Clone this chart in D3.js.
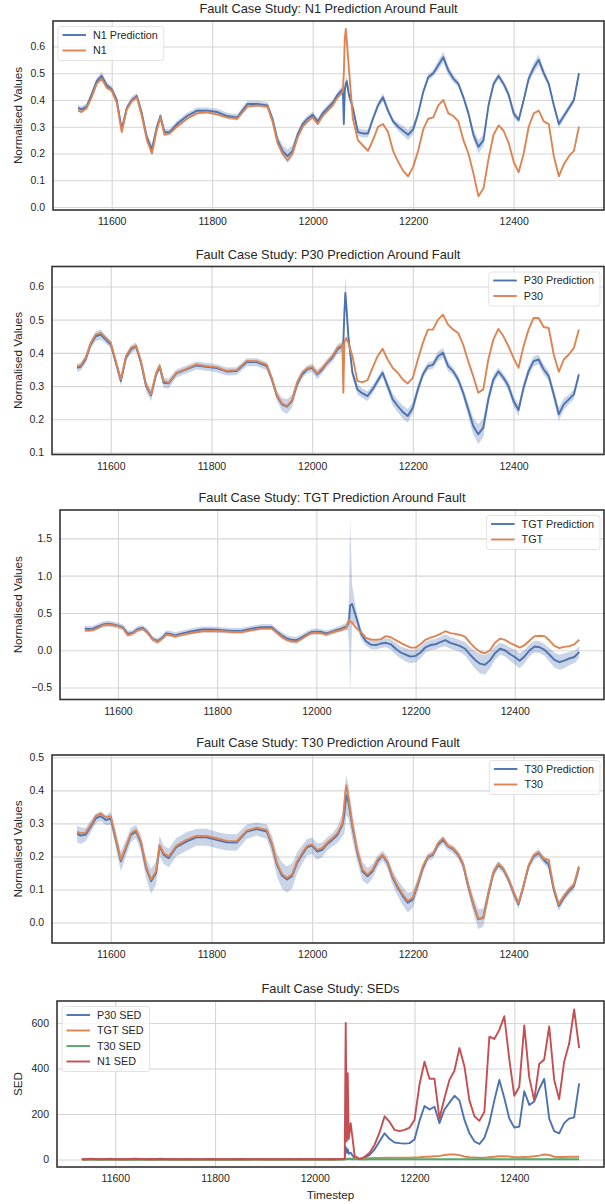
<!DOCTYPE html>
<html>
<head>
<meta charset="utf-8">
<script src="https://cdn.jsdelivr.net/npm/d3@7"></script>
<style>
  body { margin: 0; background: #fff; }
  svg { display: block; font-family: "Liberation Sans", Arial, sans-serif; }
  .grid line { stroke: #d6d6d6; stroke-width: 1.1; }
  .grid .domain { display: none; }
  .grid text { fill: #262626; font-size: 10.5px; }
  .title { font-size: 12.8px; fill: #262626; }
  .label { font-size: 11.7px; fill: #262626; }
  .legend text { font-size: 10.8px; fill: #262626; }
</style>
</head>
<body>
<svg width="605" height="1204"></svg>
<script>
// timesteps shared by every panel (denser around the fault at ~12062)
const steps = [
  11533, 11540, 11550, 11560, 11570, 11580, 11590, 11600, 11610, 11620,
  11630, 11640, 11650, 11660, 11670, 11680, 11690, 11697, 11705, 11715,
  11730, 11750, 11770, 11790, 11810, 11830, 11850, 11870, 11890, 11910,
  11920, 11930, 11940, 11950, 11960, 11970, 11980, 11990, 12000, 12010,
  12020, 12030, 12040, 12050, 12060, 12062, 12064, 12066, 12068, 12072,
  12080, 12090, 12100, 12110, 12120, 12130, 12140, 12150, 12160, 12170,
  12180, 12190, 12200, 12210, 12220, 12230, 12240, 12250, 12260, 12270,
  12280, 12290, 12300, 12310, 12320, 12330, 12340, 12350, 12360, 12370,
  12380, 12390, 12400, 12410, 12420, 12430, 12440, 12450, 12460, 12470,
  12480, 12490, 12500, 12510, 12520, 12530
];

// N1
const n1Pred = [
  0.37, 0.365, 0.375, 0.42, 0.47, 0.49, 0.455, 0.44, 0.40, 0.29,
  0.37, 0.40, 0.415, 0.35, 0.26, 0.215, 0.30, 0.34, 0.28, 0.28,
  0.31, 0.34, 0.36, 0.36, 0.355, 0.34, 0.335, 0.385, 0.385, 0.38,
  0.33, 0.25, 0.21, 0.19, 0.21, 0.27, 0.31, 0.33, 0.345, 0.32,
  0.35, 0.37, 0.39, 0.42, 0.44, 0.31, 0.44, 0.46, 0.47, 0.42,
  0.37, 0.28, 0.275, 0.275, 0.33, 0.38, 0.41, 0.36, 0.32, 0.30,
  0.285, 0.27, 0.29, 0.35, 0.43, 0.485, 0.50, 0.53, 0.56, 0.51,
  0.48, 0.46, 0.41, 0.35, 0.27, 0.225, 0.25, 0.38, 0.46, 0.49,
  0.46, 0.42, 0.35, 0.325, 0.40, 0.48, 0.52, 0.55, 0.50, 0.46,
  0.38, 0.31, 0.34, 0.37, 0.40, 0.50
];
const n1Spread = [
  0.012, 0.012, 0.012, 0.012, 0.012, 0.015, 0.012, 0.012, 0.012, 0.015,
  0.012, 0.012, 0.012, 0.012, 0.015, 0.02, 0.015, 0.012, 0.012, 0.012,
  0.012, 0.012, 0.012, 0.012, 0.012, 0.012, 0.012, 0.012, 0.012, 0.012,
  0.012, 0.018, 0.022, 0.025, 0.022, 0.015, 0.012, 0.012, 0.012, 0.012,
  0.012, 0.012, 0.012, 0.012, 0.015, 0.02, 0.02, 0.02, 0.02, 0.015,
  0.015, 0.015, 0.015, 0.015, 0.012, 0.012, 0.015, 0.012, 0.012, 0.015,
  0.018, 0.02, 0.018, 0.012, 0.012, 0.012, 0.012, 0.018, 0.02, 0.018,
  0.015, 0.012, 0.012, 0.015, 0.02, 0.025, 0.022, 0.015, 0.012, 0.012,
  0.012, 0.015, 0.015, 0.012, 0.012, 0.015, 0.018, 0.02, 0.015, 0.012,
  0.012, 0.015, 0.012, 0.012, 0.012, 0.012
];
const n1True = [
  0.36, 0.355, 0.37, 0.41, 0.46, 0.48, 0.445, 0.435, 0.39, 0.28,
  0.365, 0.395, 0.41, 0.34, 0.25, 0.20, 0.29, 0.335, 0.27, 0.275,
  0.30, 0.33, 0.35, 0.355, 0.345, 0.335, 0.33, 0.375, 0.38, 0.375,
  0.32, 0.24, 0.20, 0.175, 0.20, 0.26, 0.30, 0.32, 0.335, 0.31,
  0.34, 0.36, 0.38, 0.41, 0.43, 0.50, 0.63, 0.665, 0.62, 0.52,
  0.33, 0.25, 0.23, 0.21, 0.25, 0.30, 0.31, 0.28, 0.21, 0.17,
  0.135, 0.115, 0.15, 0.21, 0.29, 0.33, 0.335, 0.38, 0.40, 0.35,
  0.34, 0.32, 0.25, 0.20, 0.125, 0.04, 0.07, 0.18, 0.27, 0.305,
  0.285, 0.24, 0.17, 0.13, 0.20, 0.30, 0.35, 0.36, 0.32, 0.31,
  0.19, 0.115, 0.16, 0.19, 0.21, 0.30
];

// P30
const p30Pred = [
  0.355, 0.358, 0.38, 0.425, 0.45, 0.455, 0.44, 0.425, 0.37, 0.315,
  0.385, 0.41, 0.42, 0.37, 0.30, 0.272, 0.335, 0.358, 0.31, 0.308,
  0.338, 0.35, 0.362, 0.358, 0.354, 0.344, 0.345, 0.372, 0.372, 0.36,
  0.32, 0.27, 0.245, 0.238, 0.255, 0.305, 0.335, 0.35, 0.355, 0.335,
  0.35, 0.37, 0.385, 0.41, 0.42, 0.43, 0.52, 0.58, 0.54, 0.45,
  0.34, 0.29, 0.278, 0.27, 0.29, 0.315, 0.34, 0.30, 0.26, 0.24,
  0.222, 0.21, 0.235, 0.29, 0.335, 0.36, 0.364, 0.39, 0.40, 0.36,
  0.345, 0.32, 0.28, 0.23, 0.18, 0.155, 0.175, 0.26, 0.32, 0.344,
  0.325, 0.30, 0.255, 0.228, 0.295, 0.345, 0.375, 0.38, 0.35, 0.33,
  0.275, 0.215, 0.245, 0.26, 0.275, 0.335
];
const p30Spread = [
  0.012, 0.012, 0.012, 0.012, 0.015, 0.015, 0.012, 0.012, 0.012, 0.015,
  0.012, 0.012, 0.012, 0.012, 0.015, 0.018, 0.012, 0.012, 0.015, 0.015,
  0.012, 0.012, 0.012, 0.012, 0.012, 0.012, 0.012, 0.012, 0.012, 0.012,
  0.012, 0.015, 0.02, 0.022, 0.02, 0.015, 0.012, 0.012, 0.012, 0.015,
  0.012, 0.012, 0.012, 0.015, 0.015, 0.02, 0.04, 0.05, 0.04, 0.02,
  0.015, 0.015, 0.015, 0.015, 0.012, 0.012, 0.012, 0.015, 0.018, 0.018,
  0.02, 0.02, 0.018, 0.015, 0.012, 0.012, 0.012, 0.015, 0.015, 0.015,
  0.012, 0.012, 0.015, 0.02, 0.025, 0.03, 0.028, 0.02, 0.015, 0.012,
  0.012, 0.015, 0.015, 0.018, 0.015, 0.015, 0.015, 0.015, 0.015, 0.015,
  0.018, 0.02, 0.018, 0.015, 0.015, 0.012
];
const p30True = [
  0.36, 0.362, 0.385, 0.43, 0.455, 0.46, 0.445, 0.43, 0.375, 0.32,
  0.39, 0.415, 0.422, 0.375, 0.305, 0.275, 0.34, 0.362, 0.315, 0.31,
  0.34, 0.352, 0.365, 0.36, 0.357, 0.346, 0.348, 0.376, 0.375, 0.364,
  0.323, 0.273, 0.248, 0.24, 0.258, 0.31, 0.34, 0.353, 0.358, 0.338,
  0.354, 0.372, 0.39, 0.415, 0.425, 0.28, 0.43, 0.44, 0.445, 0.43,
  0.39, 0.315, 0.312, 0.318, 0.355, 0.39, 0.412, 0.38, 0.355, 0.34,
  0.32, 0.308, 0.325, 0.38, 0.43, 0.47, 0.47, 0.50, 0.515, 0.485,
  0.47, 0.46, 0.425, 0.375, 0.33, 0.28, 0.29, 0.38, 0.44, 0.472,
  0.45, 0.42, 0.385, 0.355, 0.42, 0.47, 0.505, 0.505, 0.478, 0.475,
  0.395, 0.343, 0.38, 0.395, 0.415, 0.47
];

// TGT
const tgtPred = [
  0.29, 0.285, 0.29, 0.32, 0.345, 0.355, 0.345, 0.33, 0.305, 0.22,
  0.235, 0.285, 0.30, 0.24, 0.15, 0.125, 0.17, 0.225, 0.22, 0.20,
  0.225, 0.255, 0.278, 0.278, 0.27, 0.26, 0.262, 0.29, 0.31, 0.31,
  0.25, 0.20, 0.16, 0.14, 0.135, 0.17, 0.21, 0.245, 0.25, 0.245,
  0.225, 0.245, 0.27, 0.29, 0.315, 0.33, 0.35, 0.40, 0.60, 0.62,
  0.45, 0.22, 0.12, 0.075, 0.07, 0.09, 0.10, 0.08, 0.02, -0.03,
  -0.06, -0.085, -0.075, -0.03, 0.04, 0.07, 0.08, 0.11, 0.135, 0.10,
  0.08, 0.055, 0.02, -0.06, -0.13, -0.18, -0.195, -0.135, -0.04, 0.02,
  0.0, -0.05, -0.09, -0.14, -0.08, 0.0, 0.05, 0.04, 0.005, -0.06,
  -0.13, -0.16, -0.14, -0.11, -0.09, -0.025
];
const tgtSpread = [
  0.04, 0.04, 0.04, 0.04, 0.04, 0.04, 0.04, 0.04, 0.04, 0.04,
  0.04, 0.04, 0.04, 0.04, 0.04, 0.04, 0.04, 0.04, 0.04, 0.04,
  0.04, 0.04, 0.04, 0.04, 0.04, 0.04, 0.04, 0.04, 0.04, 0.04,
  0.04, 0.045, 0.045, 0.045, 0.045, 0.04, 0.04, 0.04, 0.04, 0.04,
  0.04, 0.04, 0.04, 0.045, 0.05, 0.06, 0.1, 0.35, 1.16, 0.25,
  0.1, 0.07, 0.06, 0.06, 0.06, 0.06, 0.06, 0.07, 0.08, 0.08,
  0.09, 0.09, 0.09, 0.08, 0.07, 0.07, 0.07, 0.07, 0.08, 0.08,
  0.08, 0.08, 0.09, 0.1, 0.12, 0.13, 0.13, 0.11, 0.09, 0.08,
  0.08, 0.09, 0.1, 0.1, 0.09, 0.08, 0.08, 0.08, 0.08, 0.09,
  0.1, 0.1, 0.1, 0.09, 0.08, 0.08
];
const tgtTrue = [
  0.265, 0.265, 0.27, 0.30, 0.335, 0.345, 0.335, 0.325, 0.295, 0.20,
  0.225, 0.27, 0.285, 0.23, 0.145, 0.11, 0.16, 0.21, 0.205, 0.185,
  0.21, 0.235, 0.255, 0.258, 0.255, 0.245, 0.245, 0.27, 0.29, 0.29,
  0.235, 0.18, 0.14, 0.12, 0.115, 0.15, 0.195, 0.23, 0.235, 0.23,
  0.21, 0.235, 0.255, 0.275, 0.30, 0.34, 0.38, 0.41, 0.39, 0.37,
  0.30, 0.24, 0.165, 0.145, 0.14, 0.15, 0.19, 0.175, 0.135, 0.10,
  0.065, 0.035, 0.035, 0.08, 0.14, 0.17, 0.19, 0.22, 0.255, 0.23,
  0.22, 0.205, 0.18, 0.10, 0.03, -0.02, -0.04, 0.0, 0.10, 0.155,
  0.14, 0.10, 0.07, 0.035, 0.07, 0.13, 0.19, 0.195, 0.19, 0.13,
  0.06, 0.03, 0.045, 0.055, 0.08, 0.14
];

// T30
const t30Pred = [
  0.268, 0.263, 0.266, 0.29, 0.315, 0.322, 0.31, 0.315, 0.25, 0.185,
  0.225, 0.265, 0.275, 0.24, 0.165, 0.125, 0.15, 0.232, 0.205, 0.195,
  0.228, 0.245, 0.258, 0.258, 0.25, 0.243, 0.242, 0.275, 0.283, 0.275,
  0.235, 0.175, 0.142, 0.13, 0.14, 0.18, 0.205, 0.228, 0.232, 0.215,
  0.22, 0.238, 0.25, 0.265, 0.295, 0.31, 0.33, 0.36, 0.385, 0.365,
  0.29, 0.21, 0.155, 0.14, 0.155, 0.185, 0.203, 0.18, 0.135, 0.105,
  0.08, 0.06, 0.07, 0.115, 0.165, 0.198, 0.205, 0.235, 0.25, 0.23,
  0.222, 0.205, 0.175, 0.11, 0.055, 0.01, 0.015, 0.085, 0.15, 0.175,
  0.16, 0.13, 0.09, 0.055, 0.11, 0.17, 0.20, 0.21, 0.19, 0.175,
  0.10, 0.05, 0.075, 0.095, 0.11, 0.165
];
const t30Spread = [
  0.025, 0.025, 0.02, 0.018, 0.015, 0.015, 0.015, 0.02, 0.025, 0.03,
  0.025, 0.022, 0.02, 0.025, 0.03, 0.038, 0.035, 0.03, 0.028, 0.028,
  0.028, 0.028, 0.026, 0.026, 0.025, 0.025, 0.025, 0.022, 0.02, 0.022,
  0.028, 0.035, 0.04, 0.04, 0.038, 0.032, 0.028, 0.025, 0.025, 0.025,
  0.022, 0.02, 0.02, 0.025, 0.035, 0.045, 0.06, 0.065, 0.06, 0.05,
  0.04, 0.03, 0.028, 0.025, 0.022, 0.018, 0.015, 0.018, 0.022, 0.025,
  0.028, 0.03, 0.025, 0.02, 0.015, 0.012, 0.012, 0.012, 0.012, 0.012,
  0.012, 0.012, 0.015, 0.02, 0.025, 0.03, 0.028, 0.02, 0.015, 0.012,
  0.012, 0.012, 0.015, 0.015, 0.012, 0.012, 0.012, 0.012, 0.012, 0.012,
  0.015, 0.015, 0.012, 0.012, 0.012, 0.012
];
const t30True = [
  0.275, 0.27, 0.272, 0.295, 0.322, 0.33, 0.318, 0.322, 0.255, 0.19,
  0.23, 0.27, 0.28, 0.245, 0.17, 0.13, 0.155, 0.235, 0.21, 0.2,
  0.232, 0.25, 0.262, 0.262, 0.255, 0.247, 0.246, 0.278, 0.287, 0.28,
  0.24, 0.18, 0.147, 0.135, 0.145, 0.185, 0.21, 0.232, 0.236, 0.22,
  0.225, 0.242, 0.255, 0.27, 0.3, 0.325, 0.36, 0.395, 0.415, 0.38,
  0.295, 0.215, 0.16, 0.145, 0.16, 0.19, 0.205, 0.183, 0.14, 0.11,
  0.085, 0.065, 0.075, 0.12, 0.17, 0.2, 0.208, 0.24, 0.255, 0.232,
  0.225, 0.208, 0.178, 0.113, 0.058, 0.012, 0.012, 0.088, 0.153, 0.178,
  0.163, 0.133, 0.093, 0.058, 0.113, 0.173, 0.203, 0.213, 0.193, 0.19,
  0.105, 0.055, 0.08, 0.1, 0.115, 0.17
];

// SEDs
const p30Sed = [
  1, 0, 1, 1, 0, 1, 0, 1, 1, 0,
  1, 0, 1, 1, 0, 1, 0, 1, 1, 0,
  1, 0, 1, 1, 0, 1, 0, 1, 1, 0,
  1, 0, 1, 1, 0, 1, 0, 1, 1, 0,
  1, 0, 1, 1, 1, 55, 30, 45, 25, 30,
  5, 1, 8, 20, 45, 80, 115, 90, 75, 72,
  70, 72, 88, 170, 235, 220, 232, 160, 220, 250,
  280, 260, 175, 115, 80, 68, 95, 160, 260, 350,
  270, 180, 140, 145, 300, 240, 255, 310, 355, 180,
  125, 115, 160, 180, 185, 335
];
const tgtSed = [
  0, 1, 0, 0, 1, 0, 1, 0, 0, 1,
  0, 0, 1, 0, 1, 0, 0, 1, 0, 1,
  0, 1, 0, 0, 1, 0, 1, 0, 0, 1,
  0, 0, 1, 0, 1, 0, 0, 1, 0, 0,
  0, 1, 0, 1, 1, 3, 4, 3, 3, 3,
  4, 3, 5, 6, 7, 7, 8, 8, 8, 8,
  8, 8, 9, 10, 12, 12, 14, 15, 20, 22,
  22, 19, 13, 10, 9, 8, 8, 10, 12, 14,
  15, 13, 10, 10, 11, 12, 14, 17, 22, 20,
  12, 11, 11, 12, 12, 12
];
const t30Sed = [
  0, 0, 1, 0, 0, 0, 1, 0, 0, 0,
  0, 1, 0, 0, 1, 1, 0, 0, 0, 0,
  0, 0, 0, 1, 0, 0, 0, 0, 1, 0,
  0, 1, 0, 0, 0, 0, 1, 0, 0, 0,
  0, 0, 0, 0, 1, 1, 1, 2, 2, 1,
  1, 1, 0, 1, 1, 1, 1, 1, 1, 1,
  1, 1, 1, 1, 1, 1, 1, 1, 1, 1,
  1, 1, 1, 1, 1, 1, 1, 1, 1, 1,
  1, 1, 1, 1, 1, 1, 1, 1, 1, 1,
  1, 1, 1, 1, 1, 1
];
const n1Sed = [
  2, 1, 3, 2, 1, 2, 3, 1, 2, 1,
  2, 3, 2, 1, 2, 1, 3, 2, 1, 2,
  1, 2, 1, 2, 1, 1, 2, 1, 2, 1,
  2, 1, 1, 2, 1, 2, 1, 2, 1, 2,
  1, 2, 1, 2, 3, 600, 80, 380, 90, 160,
  15, 2, 12, 30, 65, 120, 190, 165, 130, 125,
  130, 140, 175, 330, 430, 355, 355, 180, 270, 350,
  390, 490, 410, 260, 190, 170, 210, 540, 530, 570,
  630, 440, 280, 320, 590, 360, 260, 420, 440, 585,
  350, 265, 430, 510, 660, 490
];

// axis setup
const xTicks = [11600, 11800, 12000, 12200, 12400];
const yLimits = [[-0.011, 0.695], [0.094, 0.66], [-0.66, 1.88], [-0.062, 0.507], [-33, 697]];
const yTickSets = [
  [0, 0.1, 0.2, 0.3, 0.4, 0.5, 0.6],
  [0.1, 0.2, 0.3, 0.4, 0.5, 0.6],
  [-0.5, 0, 0.5, 1.0, 1.5],
  [0, 0.1, 0.2, 0.3, 0.4, 0.5],
  [0, 200, 400, 600]
];

const blue = "#4c72b0", orange = "#dd8452", green = "#55a868", red = "#c44e52";

const panels = [
  { title: "Fault Case Study: N1 Prediction Around Fault", ylabel: "Normalised Values",
    band: [n1Pred, n1Spread], legendSide: "left",
    lines: [{ name: "N1 Prediction", values: n1Pred, color: blue }, { name: "N1", values: n1True, color: orange }] },
  { title: "Fault Case Study: P30 Prediction Around Fault", ylabel: "Normalised Values",
    band: [p30Pred, p30Spread], legendSide: "right",
    lines: [{ name: "P30 Prediction", values: p30Pred, color: blue }, { name: "P30", values: p30True, color: orange }] },
  { title: "Fault Case Study: TGT Prediction Around Fault", ylabel: "Normalised Values",
    band: [tgtPred, tgtSpread], legendSide: "right",
    lines: [{ name: "TGT Prediction", values: tgtPred, color: blue }, { name: "TGT", values: tgtTrue, color: orange }] },
  { title: "Fault Case Study: T30 Prediction Around Fault", ylabel: "Normalised Values",
    band: [t30Pred, t30Spread], legendSide: "right",
    lines: [{ name: "T30 Prediction", values: t30Pred, color: blue }, { name: "T30", values: t30True, color: orange }] },
  { title: "Fault Case Study: SEDs", ylabel: "SED", xlabel: "Timestep",
    band: null, legendSide: "left",
    lines: [
      { name: "P30 SED", values: p30Sed, color: blue },
      { name: "TGT SED", values: tgtSed, color: orange },
      { name: "T30 SED", values: t30Sed, color: green },
      { name: "N1 SED", values: n1Sed, color: red }
    ] }
];

// frame boxes of each subplot
const boxes = [
  { left: 53, top: 21, bottom: 210 },
  { left: 52, top: 266.5, bottom: 454.5 },
  { left: 60, top: 510, bottom: 699.5 },
  { left: 52, top: 755, bottom: 943 },
  { left: 57, top: 1001, bottom: 1167 }
];
const right = 604;

const svg = d3.select("svg");
svg.append("rect").attr("width", 605).attr("height", 1204).attr("fill", "#fff");

const ext = d3.extent(steps);
const pad = (ext[1] - ext[0]) * 0.05;
const idx = d3.range(steps.length);

panels.forEach((p, k) => {
  const b = boxes[k];
  const x = d3.scaleLinear().domain([ext[0] - pad, ext[1] + pad]).range([b.left, right]);
  const y = d3.scaleLinear().domain(yLimits[k]).range([b.bottom, b.top]);
  const g = svg.append("g");
  const fmt = k === 4 ? d3.format("d") : d3.format(".1f");

  // grid + tick labels
  g.append("g")
    .attr("class", "grid")
    .attr("transform", `translate(0, ${b.bottom})`)
    .call(d3.axisBottom(x).tickValues(xTicks).tickFormat(d3.format("d"))
      .tickSizeInner(-(b.bottom - b.top)).tickSizeOuter(0).tickPadding(8));
  g.append("g")
    .attr("class", "grid")
    .attr("transform", `translate(${b.left}, 0)`)
    .call(d3.axisLeft(y).tickValues(yTickSets[k]).tickFormat(fmt)
      .tickSizeInner(-(right - b.left)).tickSizeOuter(0).tickPadding(8));

  // clip to plot area
  const clipId = "clip" + k;
  svg.append("clipPath").attr("id", clipId)
    .append("rect").attr("x", b.left).attr("y", b.top)
    .attr("width", right - b.left).attr("height", b.bottom - b.top);
  const plot = g.append("g").attr("clip-path", `url(#${clipId})`);

  if (p.band) {
    const [mean, spread] = p.band;
    plot.append("path")
      .datum(idx)
      .attr("fill", blue)
      .attr("fill-opacity", 0.3)
      .attr("d", d3.area()
        .x(i => x(steps[i]))
        .y0(i => y(mean[i] - spread[i]))
        .y1(i => y(mean[i] + spread[i])));
  }

  p.lines.forEach(s => {
    plot.append("path")
      .datum(idx)
      .attr("fill", "none")
      .attr("stroke", s.color)
      .attr("stroke-width", 1.9)
      .attr("stroke-linejoin", "round")
      .attr("d", d3.line().x(i => x(steps[i])).y(i => y(s.values[i])));
  });

  // frame
  g.append("rect")
    .attr("x", b.left).attr("y", b.top)
    .attr("width", right - b.left).attr("height", b.bottom - b.top)
    .attr("fill", "none").attr("stroke", "#333").attr("stroke-width", 1.6);

  // title and labels
  g.append("text")
    .attr("class", "title")
    .attr("x", (b.left + right) / 2)
    .attr("y", b.top - 12)
    .attr("dy", "0.35em")
    .attr("text-anchor", "middle")
    .text(p.title);

  g.append("text")
    .attr("class", "label")
    .attr("transform", `translate(18, ${(b.top + b.bottom) / 2}) rotate(-90)`)
    .attr("dy", "0.35em")
    .attr("text-anchor", "middle")
    .text(p.ylabel);

  if (p.xlabel) {
    g.append("text")
      .attr("class", "label")
      .attr("x", (b.left + right) / 2)
      .attr("y", b.bottom + 28)
      .attr("dy", "0.35em")
      .attr("text-anchor", "middle")
      .text(p.xlabel);
  }

  // legend
  const rowH = 15.5;
  const leg = g.append("g").attr("class", "legend");
  const frame = leg.append("rect");
  const texts = p.lines.map((s, i) => leg.append("text")
    .attr("x", 35).attr("y", 8.5 + i * rowH).attr("dy", "0.35em").text(s.name));
  p.lines.forEach((s, i) => {
    leg.append("line")
      .attr("x1", 4.5).attr("x2", 28)
      .attr("y1", 8.5 + i * rowH).attr("y2", 8.5 + i * rowH)
      .attr("stroke", s.color).attr("stroke-width", 1.9);
  });
  const tw = d3.max(texts, t => t.node().getComputedTextLength());
  const lw = 35 + tw + 6;
  const lh = p.lines.length * rowH + 3;
  frame.attr("width", lw).attr("height", lh).attr("rx", 2.5)
    .attr("fill", "#fff").attr("fill-opacity", 0.8)
    .attr("stroke", "#dcdcdc").attr("stroke-width", 0.8);
  const lx = p.legendSide === "left" ? b.left + 5 : right - 4 - lw;
  leg.attr("transform", `translate(${lx}, ${b.top + 5.5})`);
});
</script>
</body>
</html>
